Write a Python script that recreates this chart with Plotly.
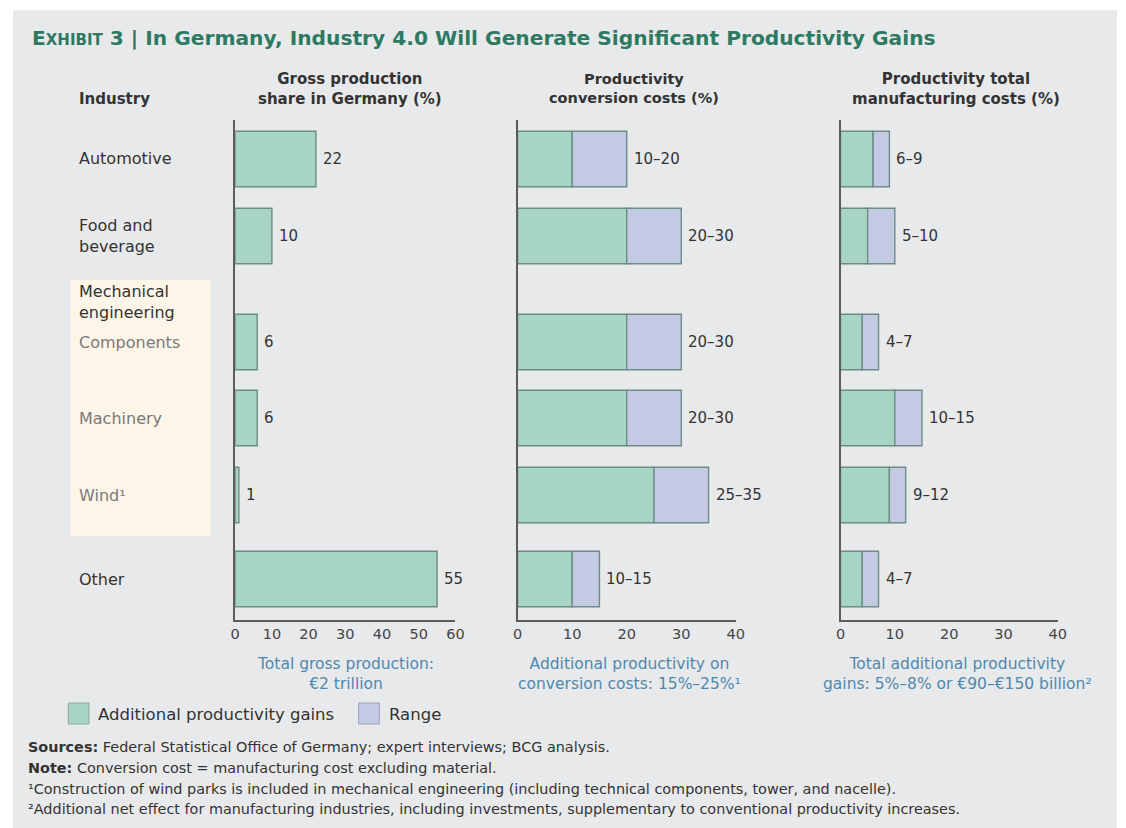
import plotly.graph_objects as go

# ---------------- data ----------------
industries = ["Automotive", "Food and<br>beverage", "Components", "Machinery", "Wind¹", "Other"]
gross_share = [22, 10, 6, 6, 1, 55]
conv_low = [10, 20, 20, 20, 25, 10]
conv_high = [20, 30, 30, 30, 35, 15]
total_low = [6, 5, 4, 10, 9, 4]
total_high = [9, 10, 7, 15, 12, 7]
gross_ticks = [0, 10, 20, 30, 40, 50, 60]
pct_ticks = [0, 10, 20, 30, 40]

# ---------------- layout constants ----------------
ROW_POS = [0, 1, 2.377, 3.364, 4.364, 5.455]   # vertical row slots (row units)
Y_RANGE = [5.987, -0.506]
BAR_W = 0.72
GREEN = "#a7d5c3"
LAV = "#c5cae4"
EDGE = "#6d8c86"
DARK = "#333333"
GRAYTXT = "#7a7a7a"
NOTE = "#4f88b0"
TITLE = "#2d7a62"
FONT = "DejaVu Sans"
OFF = 8                       # page body margin
W, H = 1126 - OFF, 828 - OFF
LPAD = 5                      # annotation inner padding compensation


def px(X):
    return (X - OFF) / W


def py(Y):
    return 1 - (Y - OFF) / H


Y_DOM = [py(620), py(120)]

fig = go.Figure()


def bar(x, axis, color, base=None):
    fig.add_trace(go.Bar(
        y=ROW_POS, x=x, base=base, orientation="h", width=BAR_W,
        marker=dict(color=color, line=dict(color=EDGE, width=1.4)),
        xaxis=axis, yaxis=axis.replace("x", "y"), showlegend=False, hoverinfo="skip"))


# panel 1
bar(gross_share, "x", GREEN)
# panel 2
bar(conv_low, "x2", GREEN)
bar([h - l for h, l in zip(conv_high, conv_low)], "x2", LAV, base=conv_low)
# panel 3
bar(total_low, "x3", GREEN)
bar([h - l for h, l in zip(total_high, total_low)], "x3", LAV, base=total_low)

ann = []
VAL_SIZE = 15
for i, y in enumerate(ROW_POS):
    ann.append(dict(x=gross_share[i], y=y, xref="x", yref="y", text=str(gross_share[i]),
                    xanchor="left", xshift=5, showarrow=False, font=dict(size=VAL_SIZE, color=DARK)))
    ann.append(dict(x=conv_high[i], y=y, xref="x2", yref="y2", text=f"{conv_low[i]}–{conv_high[i]}",
                    xanchor="left", xshift=5, showarrow=False, font=dict(size=VAL_SIZE, color=DARK)))
    ann.append(dict(x=total_high[i], y=y, xref="x3", yref="y3", text=f"{total_low[i]}–{total_high[i]}",
                    xanchor="left", xshift=5, showarrow=False, font=dict(size=VAL_SIZE, color=DARK)))

# row labels
label_colors = [DARK, DARK, GRAYTXT, GRAYTXT, GRAYTXT, DARK]
for i, y in enumerate(ROW_POS):
    ann.append(dict(x=px(78 - LPAD), y=y, xref="paper", yref="y", text=industries[i], align="left",
                    xanchor="left", showarrow=False, font=dict(size=16, color=label_colors[i])))


def ptext(x, y, text, size=16, color=DARK, xanchor="center", align="center"):
    if xanchor == "left":
        x -= LPAD
    ann.append(dict(x=px(x), y=py(y), xref="paper", yref="paper", text=text, xanchor=xanchor,
                    yanchor="middle", align=align, showarrow=False, font=dict(size=size, color=color)))


ptext(78, 302, "Mechanical<br>engineering", xanchor="left", align="left")
# title
ptext(30, 38, "<b>E<span style='font-size:15px'>XHIBIT</span> 3 | In Germany, Industry 4.0 Will Generate Significant Productivity Gains</b>",
      size=20.2, color=TITLE, xanchor="left", align="left")
# headers
ptext(78, 99, "<b>Industry</b>", size=15, xanchor="left", align="left")
ptext(349, 89, "<b>Gross production<br>share in Germany (%)</b>", size=15)
ptext(637, 89, "<b>Productivity<br>conversion costs (%)</b>", size=14.5)
ptext(963, 89, "<b>Productivity total<br>manufacturing costs (%)</b>", size=15)
# notes under axes
ptext(345, 674, "Total gross production:<br>€2 trillion", size=15.5, color=NOTE)
ptext(632, 674, "Additional productivity on<br>conversion costs: 15%–25%¹", size=15.5, color=NOTE)
ptext(964, 674, "Total additional productivity<br>gains: 5%–8% or €90–€150 billion²", size=15.5, color=NOTE)
# legend text
ptext(97, 714, "Additional productivity gains", size=16.5, xanchor="left", align="left")
ptext(392, 714, "Range", size=16.5, xanchor="left", align="left")
# footnotes
FN = 14.4
ptext(26, 747, "<b>Sources:</b> Federal Statistical Office of Germany; expert interviews; BCG analysis.",
      size=FN, xanchor="left", align="left")
ptext(26, 768, "<b>Note:</b> Conversion cost = manufacturing cost excluding material.",
      size=FN, xanchor="left", align="left")
ptext(26, 789, "¹Construction of wind parks is included in mechanical engineering (including technical components, tower, and nacelle).",
      size=FN, xanchor="left", align="left")
ptext(26, 809, "²Additional net effect for manufacturing industries, including investments, supplementary to conventional productivity increases.",
      size=FN, xanchor="left", align="left")

shapes = [
    # background panel
    dict(type="rect", xref="paper", yref="paper", x0=0, x1=1, y0=0, y1=py(10),
         fillcolor="#e8e9eb", line=dict(width=0), layer="below"),
    # mechanical engineering band
    dict(type="rect", xref="paper", yref="paper", x0=px(66), x1=px(208), y0=py(536), y1=py(280),
         fillcolor="#fdf5e7", line=dict(width=0), layer="below"),
    # legend swatches
    dict(type="rect", xref="paper", yref="paper", x0=px(64), x1=px(85), y0=py(724), y1=py(703),
         fillcolor=GREEN, line=dict(color="#8fa8a2", width=1)),
    dict(type="rect", xref="paper", yref="paper", x0=px(358), x1=px(379), y0=py(724), y1=py(703),
         fillcolor=LAV, line=dict(color="#9ea3bd", width=1)),
]


def xax(domain, rng, ticks, anchor):
    return dict(domain=domain, range=rng, tickvals=ticks, showgrid=False, zeroline=False,
                showline=True, linecolor="#5c5c5c", linewidth=2, ticks="", anchor=anchor,
                tickfont=dict(size=14.5, color="#444"), fixedrange=True)


def yax(anchor):
    return dict(domain=Y_DOM, range=Y_RANGE, showgrid=False, zeroline=False, showticklabels=False,
                showline=True, linecolor="#5c5c5c", linewidth=2, ticks="", anchor=anchor, fixedrange=True)


fig.update_layout(
    width=W, height=H,
    margin=dict(l=0, r=0, t=0, b=0),
    paper_bgcolor="white", plot_bgcolor="rgba(0,0,0,0)",
    font=dict(family=FONT, color=DARK),
    barmode="overlay",
    xaxis=xax([px(233), px(456)], [0, 60], gross_ticks, "y"),
    xaxis2=xax([px(519), px(740)], [0, 40], pct_ticks, "y2"),
    xaxis3=xax([px(846), px(1066)], [0, 40], pct_ticks, "y3"),
    yaxis=yax("x"), yaxis2=yax("x2"), yaxis3=yax("x3"),
    annotations=ann, shapes=shapes, showlegend=False,
)

fig.write_html("out.html")
